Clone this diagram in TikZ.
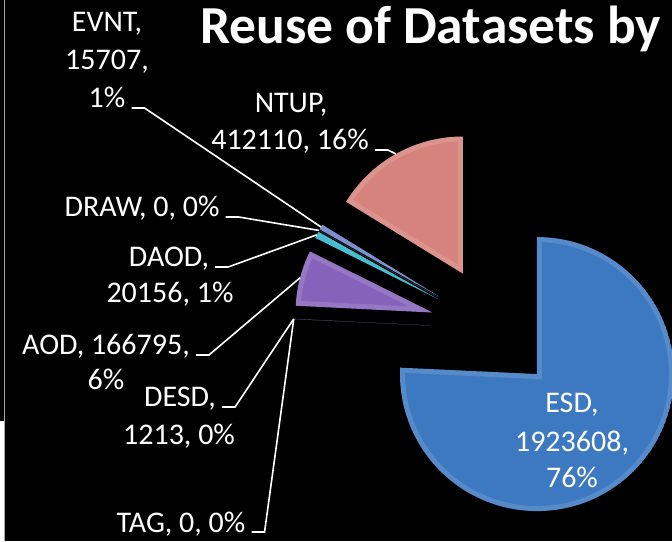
\documentclass[tikz,border=0pt]{standalone}
\usepackage{fontspec}
\setmainfont{Carlito}
\usetikzlibrary{calc}
\definecolor{esd}{RGB}{61,121,192}
\definecolor{ntup}{RGB}{214,131,126}
\definecolor{aod}{RGB}{134,99,186}
\definecolor{daod}{RGB}{45,178,200}
\definecolor{desd}{RGB}{40,40,55}
\definecolor{evnt}{RGB}{105,128,200}

\begin{document}
\begin{tikzpicture}[x=1pt, y=1pt, font=\fontsize{30}{36}\selectfont,
  lbl/.style={anchor=base, text=white, inner sep=0pt},
  leader/.style={draw=white, line width=1.6pt}]

\fill[black] (0,0) rectangle (672,541);
\useasboundingbox (0,0) rectangle (672,541);

% edge of the slide
\fill[white] (0,0) rectangle (4,120);
\draw[gray!70, line width=1.2pt] (4.6,0) -- (4.6,541);

\coordinate (O) at (493.5,212.5);

% exploded slices, clockwise from the top
\foreach \n/\c/\a/\b in {ESD/esd/90/-182.681, TAG/esd/177.319/177.319,
    DESD/desd/177.319/177.147, AOD/aod/177.147/153.503,
    DAOD/daod/153.503/150.646, DRAW/daod/150.646/150.646,
    EVNT/evnt/150.646/148.419, NTUP/ntup/148.419/90}
{
  \pgfmathsetmacro\m{(\a+\b)/2}
  \coordinate (\n-tip) at ($(O)+(\m:63)$);
  \coordinate (\n-pt) at ($(O)+(\m:200)$);
  \def\slice{(\n-tip) -- ++(\a:137) arc[start angle=\a, end angle=\b, radius=137] -- cycle}
  \begin{scope}
    \clip \slice;
    \fill[\c] \slice;
    \draw[\c!40!white, line width=10pt, opacity=.22] \slice;
  \end{scope}
}

\node[anchor=base west, text=white, inner sep=0pt,
  font=\fontsize{53.5}{60}\selectfont\bfseries] (title) at (200,497) {Reuse of Datasets by};

\node[lbl] (EVNT-1) at (107,509) {EVNT,};
\node[lbl] (EVNT-2) at (107,471) {15707,};
\node[lbl] (EVNT) at (107,433) {1\%};
\node[lbl] (NTUP-1) at (291,428) {NTUP,};
\node[lbl] (NTUP) at (290,391) {412110, 16\%};
\node[lbl] (DRAW) at (142,324) {DRAW, 0, 0\%};
\node[lbl] (DAOD) at (169,274) {DAOD,};
\node[lbl] (DAOD-2) at (170,238) {20156, 1\%};
\node[lbl] (AOD) at (106,186) {AOD, 166795,};
\node[lbl] (AOD-2) at (106,151) {6\%};
\node[lbl] (DESD) at (180,134) {DESD,};
\node[lbl] (DESD-2) at (179,96) {1213, 0\%};
\node[lbl] (TAG) at (181,9) {TAG, 0, 0\%};

\node[lbl] (ESD-1) at (572,128) {ESD,};
\node[lbl] (ESD-2) at (572,89) {1923608,};
\node[lbl] (ESD-3) at (572,53) {76\%};

\foreach \n in {EVNT,NTUP,DRAW,DAOD,AOD,DESD,TAG}
  \draw[leader] ([xshift=6pt]\n.base east) -- ++(13,0) -- (\n-pt);

\end{tikzpicture}
\end{document}
